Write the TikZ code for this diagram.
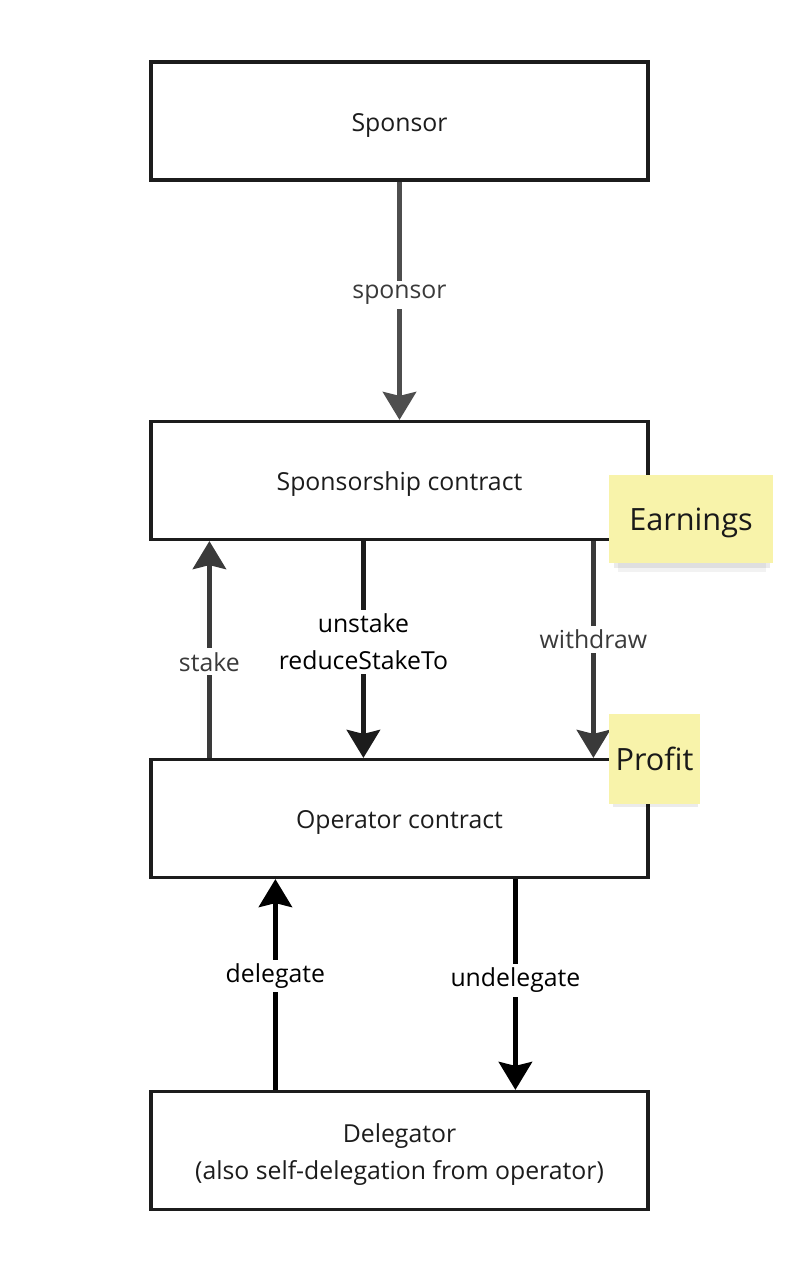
\documentclass[tikz,border=0pt]{standalone}
\usepackage{fontspec}
\setmainfont{Open Sans}
\usetikzlibrary{arrows.meta}
\definecolor{boxline}{HTML}{1C1C1C}
\definecolor{graylab}{HTML}{3A3A3A}
\definecolor{sticky}{HTML}{F8F3AA}
\tikzset{
  box/.style={draw=boxline, line width=2.4pt, minimum width=372.75pt, minimum height=88.5pt},
  btext/.style={align=center, text=boxline, font=\fontsize{18.6}{27.75}\selectfont},
  arr/.style={line width=3.4pt, -{Stealth[length=21pt,width=25pt,inset=3pt]}},
  glab/.style={fill=white, text=graylab, inner sep=3pt, font=\fontsize{18.6}{27.75}\selectfont, align=center},
  blab/.style={fill=white, text=black, inner sep=3pt, font=\fontsize{18.6}{27.75}\selectfont, align=center},
  note/.style={fill=sticky, draw=none, text=black!90, font=\fontsize{23}{27}\selectfont, text depth=0pt}
}
\begin{document}
\begin{tikzpicture}[x=0.75pt,y=-0.75pt]
\useasboundingbox[fill=white] (0,0) rectangle (791,1263);
\node[box] (spon) at (399.5,121) {};
\node[box] (ship) at (399.5,480.5) {};
\node[box] (op) at (399.5,818.5) {};
\node[box] (del) at (399.5,1150.5) {};
\node[btext] (sponT) at ([yshift=-3pt]spon.center) {Sponsor};
\node[btext] (shipT) at ([yshift=-3pt]ship.center) {Sponsorship contract};
\node[btext] (opT) at ([yshift=-3pt]op.center) {Operator contract};
\node[btext] (delT) at ([yshift=-3pt]del.center) {Delegator\\(also self-delegation from operator)};
% arrows
\draw[arr, graylab!90!white] (spon.south) -- node[glab, pos=0.475] {sponsor} (ship.north);
\draw[arr, graylab] ([xshift=45pt]op.north west) -- node[glab, pos=0.443] {stake} ([xshift=45pt]ship.south west);
\draw[arr, boxline] ([xshift=160.5pt]ship.south west) -- node[blab, pos=0.466] {unstake\\reduceStakeTo} ([xshift=160.5pt]op.north west);
\draw[arr, graylab] ([xshift=333pt]ship.south west) -- node[glab, pos=0.452] {withdraw} ([xshift=333pt]op.north west);
\draw[arr, black] ([xshift=94.5pt]del.north west) -- node[blab, pos=0.54] {delegate} ([xshift=94.5pt]op.south west);
\draw[arr, black] ([xshift=274.5pt]op.south west) -- node[blab, pos=0.48] {undelegate} ([xshift=274.5pt]del.north west);
% sticky notes
\fill[black, opacity=0.08] (614,557) rectangle (770,568);
\fill[black, opacity=0.05] (618,560) rectangle (766,572);
\node[note, minimum width=123pt, minimum height=66pt] (earn) at (691,519) {Earnings};
\fill[black, opacity=0.08] (613,798) rectangle (698,807);
\node[note, minimum width=68.25pt, minimum height=67.5pt] (prof) at (654.5,758.5) {Profit};
\end{tikzpicture}
\end{document}
